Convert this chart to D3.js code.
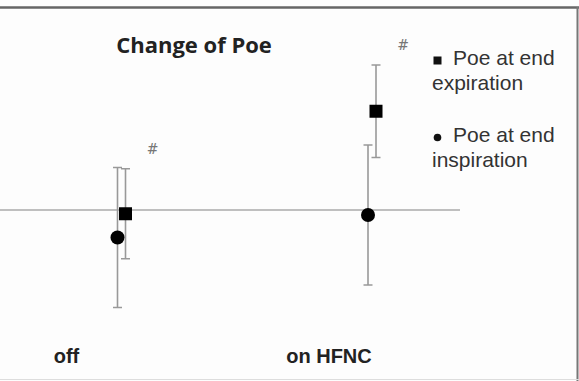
<!DOCTYPE html>
<html>
<head>
<meta charset="utf-8">
<script src="https://d3js.org/d3.v7.min.js"></script>
<style>
  body { margin: 0; background: #fff; }
  svg text { font-family: "Liberation Sans", Arial, sans-serif; }
</style>
</head>
<body>
<div id="chart"></div>
<script>
// categories and values (change of Poe, mean +/- sd)
const categories = ["off", "on HFNC"];
const inspMean = [-1.1, -0.2];
const inspSd = [2.8, 2.8];
const expMean = [-0.15, 3.95];
const expSd = [1.8, 1.85];
const significant = ["#", "#"];
const legendLabels = [["Poe at end", "expiration"], ["Poe at end", "inspiration"]];
const legendShapes = ["square", "circle"];

const W = 579, H = 381;

const svg = d3.select("#chart").append("svg")
    .attr("width", W)
    .attr("height", H);

// frame
svg.append("rect").attr("x", 0).attr("y", 0).attr("width", W).attr("height", H).attr("fill", "#fdfdfd");
svg.append("line").attr("x1", 0).attr("x2", W).attr("y1", 7.5).attr("y2", 7.5)
    .attr("stroke", "#666").attr("stroke-width", 2.5);
svg.append("line").attr("x1", 577.5).attr("x2", 577.5).attr("y1", 7).attr("y2", H)
    .attr("stroke", "#777").attr("stroke-width", 2);
svg.append("line").attr("x1", 0).attr("x2", W).attr("y1", 379.5).attr("y2", 379.5)
    .attr("stroke", "#ddd").attr("stroke-width", 1);

// scales
const x = d3.scalePoint().domain(categories).range([121.5, 372]);
const labelX = d3.scalePoint().domain(categories).range([66.5, 329]);
const y = d3.scaleLinear().domain([0, 4]).range([210, 110]);
const offset = 4; // series side-by-side shift

// zero line
svg.append("line")
    .attr("x1", 0).attr("x2", 460)
    .attr("y1", y(0)).attr("y2", y(0))
    .attr("stroke", "#aaa").attr("stroke-width", 1.5);

// title
svg.append("text")
    .attr("x", 194).attr("y", 53)
    .attr("text-anchor", "middle")
    .style("font-family", "'Open Sans', sans-serif")
    .style("font-weight", "bold")
    .style("font-size", "22px")
    .attr("fill", "#222")
    .text("Change of Poe");

function errorBars(means, sds, dx, cls) {
    const g = svg.append("g").attr("class", cls);
    categories.forEach((c, i) => {
        const cx = x(c) + dx;
        const top = y(means[i] + sds[i]);
        const bot = y(means[i] - sds[i]);
        g.append("line").attr("x1", cx).attr("x2", cx).attr("y1", top).attr("y2", bot)
            .attr("stroke", "#999").attr("stroke-width", 1.6);
        [top, bot].forEach(v => {
            g.append("line").attr("x1", cx - 4.5).attr("x2", cx + 4.5).attr("y1", v).attr("y2", v)
                .attr("stroke", "#999").attr("stroke-width", 1.5);
        });
    });
}

errorBars(inspMean, inspSd, -offset, "insp-err");
errorBars(expMean, expSd, offset, "exp-err");

// inspiration markers (circles)
svg.selectAll(".insp").data(categories).enter().append("circle")
    .attr("class", "insp")
    .attr("cx", d => x(d) - offset)
    .attr("cy", (d, i) => y(inspMean[i]))
    .attr("r", 7)
    .attr("fill", "#000");

// expiration markers (squares)
const sq = 13;
svg.selectAll(".exp").data(categories).enter().append("rect")
    .attr("class", "exp")
    .attr("x", d => x(d) + offset - sq / 2)
    .attr("y", (d, i) => y(expMean[i]) - sq / 2)
    .attr("width", sq).attr("height", sq)
    .attr("fill", "#000");

// significance marks
svg.selectAll(".sig").data(categories).enter().append("text")
    .attr("class", "sig")
    .attr("x", d => x(d) + offset + 27)
    .attr("y", (d, i) => y(expMean[i] + expSd[i]) - 15)
    .attr("text-anchor", "middle")
    .style("font-family", "'DejaVu Serif', serif")
    .style("font-size", "14px")
    .attr("fill", "#777")
    .text((d, i) => significant[i]);

// category labels
svg.selectAll(".cat").data(categories).enter().append("text")
    .attr("class", "cat")
    .attr("x", d => labelX(d))
    .attr("y", 363)
    .attr("text-anchor", "middle")
    .style("font-weight", "bold")
    .style("font-size", "20px")
    .attr("fill", "#222")
    .text(d => d);

// legend
const legend = svg.append("g").attr("transform", "translate(432,65)");
legendLabels.forEach((lines, i) => {
    const gy = i * 77;
    if (legendShapes[i] === "square") {
        legend.append("rect").attr("x", 1.5).attr("y", gy - 8.5).attr("width", 8).attr("height", 8).attr("fill", "#111");
    } else {
        legend.append("circle").attr("cx", 5.5).attr("cy", gy - 4.5).attr("r", 3.8).attr("fill", "#111");
    }
    const t = legend.append("text")
        .attr("y", gy)
        .style("font-size", "21px")
        .attr("fill", "#333");
    lines.forEach((l, j) => {
        t.append("tspan").attr("x", j === 0 ? 21 : 0).attr("dy", j === 0 ? 0 : 25).text(l);
    });
});
</script>
</body>
</html>
